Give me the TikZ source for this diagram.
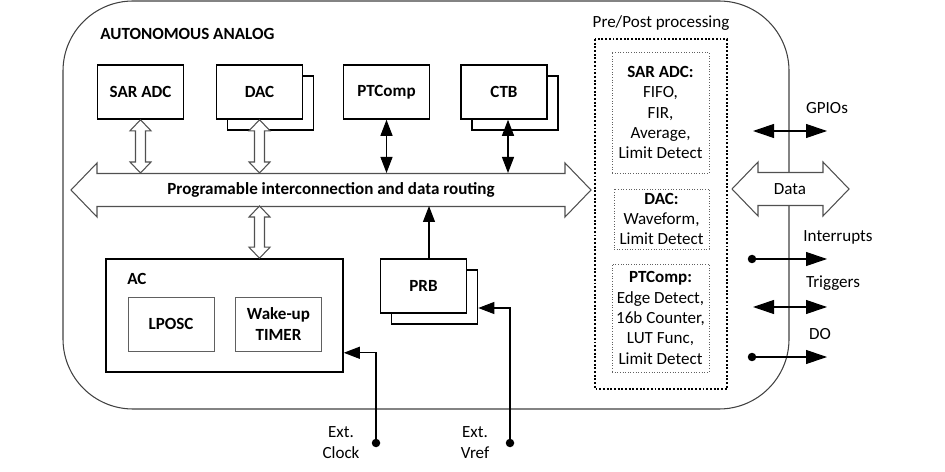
\documentclass[tikz,border=0pt]{standalone}
\usepackage{fontspec}
\setmainfont{Carlito}
\usetikzlibrary{positioning,arrows.meta,calc,shadows}
\definecolor{cframe}{HTML}{404040}
\definecolor{cbus}{HTML}{505050}
\definecolor{cdot}{HTML}{606060}
\newcommand{\fs}{\fontsize{9.7}{11.6}\selectfont}
\tikzset{
  txt/.style   ={font=\fs,inner sep=0pt},
  btxt/.style  ={font=\fs\bfseries,inner sep=0pt},
  blk/.style   ={draw=black,line width=0.9pt,fill=white,font=\fs\bfseries,
                 minimum width=1.72cm,minimum height=1.08cm,inner sep=1pt,align=center},
  stack/.style ={blk,copy shadow={shadow xshift=0.22cm,shadow yshift=-0.22cm,
                 draw=black,fill=white,line width=0.9pt}},
  sub/.style   ={draw=cdot,line width=0.5pt,fill=white,font=\fs\bfseries,
                 minimum width=1.72cm,minimum height=1.08cm,inner sep=1pt,align=center},
  proc/.style  ={draw=cdot,densely dotted,line width=0.5pt,font=\fs,align=center,
                 minimum width=1.94cm,inner sep=1pt},
  frame/.style ={draw=cframe,line width=0.6pt,rounded corners=1.4cm},
  pp/.style    ={draw=black,densely dotted,line width=1.1pt},
  hollow/.style={draw=cbus,line width=0.6pt,fill=white},
  arr/.style   ={-{Triangle[length=0.32cm,width=0.24cm]},line width=0.6pt},
  darr/.style  ={{Triangle[length=0.32cm,width=0.24cm]}-{Triangle[length=0.32cm,width=0.24cm]},line width=0.6pt},
  io/.style    ={-{Triangle[length=0.42cm,width=0.28cm]},line width=0.6pt},
  dio/.style   ={{Triangle[length=0.42cm,width=0.28cm]}-{Triangle[length=0.42cm,width=0.28cm]},line width=0.6pt},
  dot/.style   ={circle,fill=black,inner sep=0pt,minimum size=0.17cm},
}
\newcommand{\fatlink}[2]{%
 \path[hollow] let \p1=(#1), \p2=(#2) in
  (\x1,\y1) -- (\x1+0.21cm,\y1-0.22cm) -- (\x1+0.1cm,\y1-0.22cm)
  -- (\x1+0.1cm,\y2+0.22cm) -- (\x1+0.21cm,\y2+0.22cm) -- (\x1,\y2)
  -- (\x1-0.21cm,\y2+0.22cm) -- (\x1-0.1cm,\y2+0.22cm)
  -- (\x1-0.1cm,\y1-0.22cm) -- (\x1-0.21cm,\y1-0.22cm) -- cycle;}
\newcommand{\fatbus}[2]{%
 \path[hollow] let \p1=(#1), \p2=(#2) in
  (\x1,\y1) -- (\x1+0.52cm,\y1+0.54cm) -- (\x1+0.52cm,\y1+0.33cm)
  -- (\x2-0.52cm,\y1+0.33cm) -- (\x2-0.52cm,\y1+0.54cm) -- (\x2,\y1)
  -- (\x2-0.52cm,\y1-0.54cm) -- (\x2-0.52cm,\y1-0.33cm)
  -- (\x1+0.52cm,\y1-0.33cm) -- (\x1+0.52cm,\y1-0.54cm) -- cycle;}

\begin{document}
\begin{tikzpicture}[x=0.02cm,y=-0.02cm]
 \useasboundingbox (0,0) rectangle (945,472);
 \draw[frame] (63,1) rectangle (789,409);
 \node[btxt,anchor=west] (title) at (100,34) {AUTONOMOUS ANALOG};

 \node[blk] (sar) at (140.5,92) {SAR ADC};
 \node[stack] (dac) at (259.5,92) {DAC};
 \node[blk] (ptc) at (386.5,92) {PTComp};
 \node[stack] (ctb) at (504,92) {CTB};

 \coordinate (bus-w) at (71,190);
 \coordinate (bus-e) at (591,190);
 \coordinate (bustop) at (0,173);
 \coordinate (busbot) at (0,206);
 \fatbus{bus-w}{bus-e}
 \node[btxt] (bus) at (331,190) {Programable interconnection and data routing};

 \fatlink{sar.south}{sar.south |- bustop}
 \fatlink{dac.south}{dac.south |- bustop}
 \draw[darr] (ptc.south) -- (ptc.south |- bustop);
 \draw[darr] ([xshift=0.08cm]ctb.south) -- ([xshift=0.08cm]ctb.south |- bustop);

 \node[blk,minimum width=4.74cm,minimum height=2.26cm] (ac) at (224.5,315.5) {};
 \node[btxt,anchor=west] (aclbl) at (127,279) {AC};
 \node[sub] (lposc) at (171,324) {LPOSC};
 \node[sub] (wake) at (278.5,324) {Wake-up\\TIMER};
 \fatlink{dac.south |- busbot}{dac.south |- ac.north}

 \node[stack] (prb) at (423.5,286) {PRB};
 \draw[arr] ([xshift=0.11cm]prb.north) -- ([xshift=0.11cm]prb.north |- busbot);

 \node[dot] (clk) at (376,443) {};
 \node[dot] (vref) at (510,443) {};
 \draw[arr] (clk.center) |- ([yshift=0.4cm]ac.south east);
 \draw[arr] (vref.center) |- ([xshift=0.22cm,yshift=-0.44cm]prb.east);
 \node[txt,align=center] (clklbl) at (341,442.5) {Ext.\\Clock};
 \node[txt,align=center] (vreflbl) at (475,442.5) {Ext.\\Vref};

 \node[txt] (pplbl) at (661,23) {Pre/Post processing};
 \draw[pp] (595,39) rectangle (727,389);
 \node[proc,minimum height=2.42cm] (psar) at (660.5,112.5)
   {\textbf{SAR ADC:}\\FIFO,\\FIR,\\Average,\\Limit Detect};
 \node[proc,minimum width=1.9cm,minimum height=1.2cm] (pdac) at (661.5,219)
   {\textbf{DAC:}\\Waveform,\\Limit Detect};
 \node[proc,minimum height=2.16cm] (pptc) at (660.5,318)
   {\textbf{PTComp:}\\Edge Detect,\\16b Counter,\\LUT Func,\\Limit Detect};

 \coordinate (data-w) at (732,189);
 \coordinate (data-e) at (849,189);
 \fatbus{data-w}{data-e}
 \node[txt] (data) at (790,189) {Data};

 \coordinate (gpio-w) at (753,131);
 \coordinate (gpio-e) at (827,131);
 \coordinate (irq-e) at (827,259);
 \coordinate (trg-w) at (753,307);
 \coordinate (trg-e) at (827,307);
 \coordinate (do-e) at (827,357);
 \node[dot] (irq) at (752,259) {};
 \node[dot] (do) at (752,357) {};
 \draw[dio] (gpio-w) -- (gpio-e);
 \draw[io] (irq.center) -- (irq-e);
 \draw[dio] (trg-w) -- (trg-e);
 \draw[io] (do.center) -- (do-e);
 \node[txt] (gpiolbl) at (827,108) {GPIOs};
 \node[txt] (irqlbl) at (838,237) {Interrupts};
 \node[txt] (trglbl) at (833,283) {Triggers};
 \node[txt] (dolbl) at (820,334) {DO};
\end{tikzpicture}
\end{document}
